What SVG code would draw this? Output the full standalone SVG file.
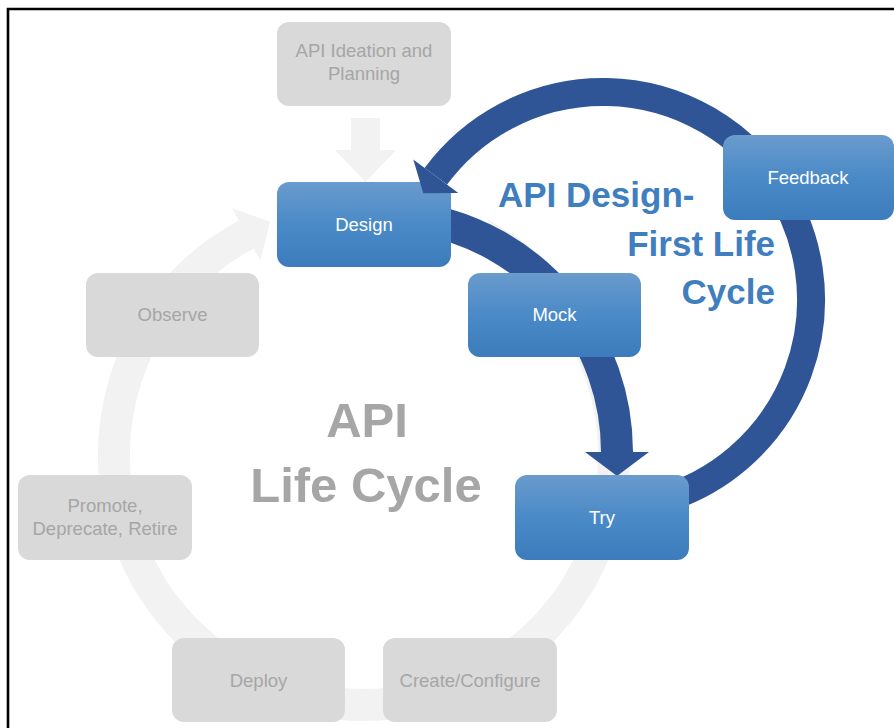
<svg xmlns="http://www.w3.org/2000/svg" width="894" height="728" viewBox="0 0 894 728">
<defs>
<linearGradient id="blueGrad" x1="0" y1="0" x2="0" y2="1">
<stop offset="0" stop-color="#6a9bcd"/>
<stop offset="0.5" stop-color="#4a8ac7"/>
<stop offset="1" stop-color="#3d7cbc"/>
</linearGradient>
<clipPath id="clipRight"><rect x="451" y="0" width="443" height="728"/></clipPath>
<style>
.gbox{fill:#d9d9d9}
.bbox{fill:url(#blueGrad)}
.gt{font-family:"Liberation Sans",Arial,sans-serif;font-size:18.5px;fill:#a6a6a6;text-anchor:middle}
.bt{font-family:"Liberation Sans",Arial,sans-serif;font-size:18.5px;fill:#ffffff;text-anchor:middle}
.big{font-family:"Liberation Sans",Arial,sans-serif;font-size:49px;font-weight:bold;fill:#a6a6a6;text-anchor:middle}
.ttl{font-family:"Liberation Sans",Arial,sans-serif;font-size:35px;font-weight:bold;fill:#3f7ebf}
.garc{fill:none;stroke:#f2f2f2;stroke-width:32}
.barc{fill:none;stroke:#2f5597}
.gfill{fill:#f2f2f2}
.bfill{fill:#2f5597}
</style>
</defs>
<rect x="0" y="0" width="894" height="728" fill="#ffffff"/>
<path d="M8 728 V9 H894" fill="none" stroke="#000000" stroke-width="2.6"/>

<g id="node-design">
<rect class="bbox" x="277" y="182" width="174" height="85" rx="12"/>
<text class="bt" x="364" y="231">Design</text>
</g>

<g id="connectors">
<path class="garc" d="M481.4 234.3 A250 250 0 1 1 246.2 234.5"/>
<polygon class="gfill" points="232.1,208.0 260.3,261.0 270.0,221.8"/>
<polygon class="gfill" points="351,118 380,118 380,150 396,150 365.5,182 335,150 351,150"/>
<path class="barc" stroke-width="32" clip-path="url(#clipRight)" d="M421.2 218.6 A237 237 0 0 1 617 452"/>
<polygon class="bfill" points="585,452 649,452 617,476"/>
<path class="barc" stroke-width="28" d="M656.8 500.9 A208 208 0 1 0 435.8 176.3"/>
<polygon class="bfill" points="413.3,159.6 458.3,193.0 423.3,193.2"/>
</g>

<g id="node-ideation">
<rect class="gbox" x="277" y="22" width="174" height="84" rx="12"/>
<text class="gt" x="364" y="57">API Ideation and</text>
<text class="gt" x="364" y="80">Planning</text>
</g>
<g id="node-observe">
<rect class="gbox" x="86" y="273" width="173" height="84" rx="12"/>
<text class="gt" x="172.5" y="321">Observe</text>
</g>
<g id="node-promote">
<rect class="gbox" x="18" y="475" width="174" height="85" rx="12"/>
<text class="gt" x="105" y="512">Promote,</text>
<text class="gt" x="105" y="535">Deprecate, Retire</text>
</g>
<g id="node-deploy">
<rect class="gbox" x="172" y="638" width="173" height="84" rx="12"/>
<text class="gt" x="258.5" y="687">Deploy</text>
</g>
<g id="node-create">
<rect class="gbox" x="383" y="638" width="174" height="84" rx="12"/>
<text class="gt" x="470" y="687">Create/Configure</text>
</g>
<g id="node-mock">
<rect class="bbox" x="468" y="273" width="173" height="84" rx="12"/>
<text class="bt" x="554.5" y="321">Mock</text>
</g>
<g id="node-try">
<rect class="bbox" x="515" y="475" width="174" height="85" rx="12"/>
<text class="bt" x="602" y="524">Try</text>
</g>
<g id="node-feedback">
<rect class="bbox" x="723" y="135" width="171" height="85" rx="12"/>
<text class="bt" x="808" y="184">Feedback</text>
</g>

<g id="labels">
<text class="big" x="367" y="437">API</text>
<text class="big" x="366" y="502">Life Cycle</text>
<text class="ttl" x="498" y="207">API Design-</text>
<text class="ttl" x="775" y="256" text-anchor="end">First Life</text>
<text class="ttl" x="775" y="304" text-anchor="end">Cycle</text>
</g>
</svg>
